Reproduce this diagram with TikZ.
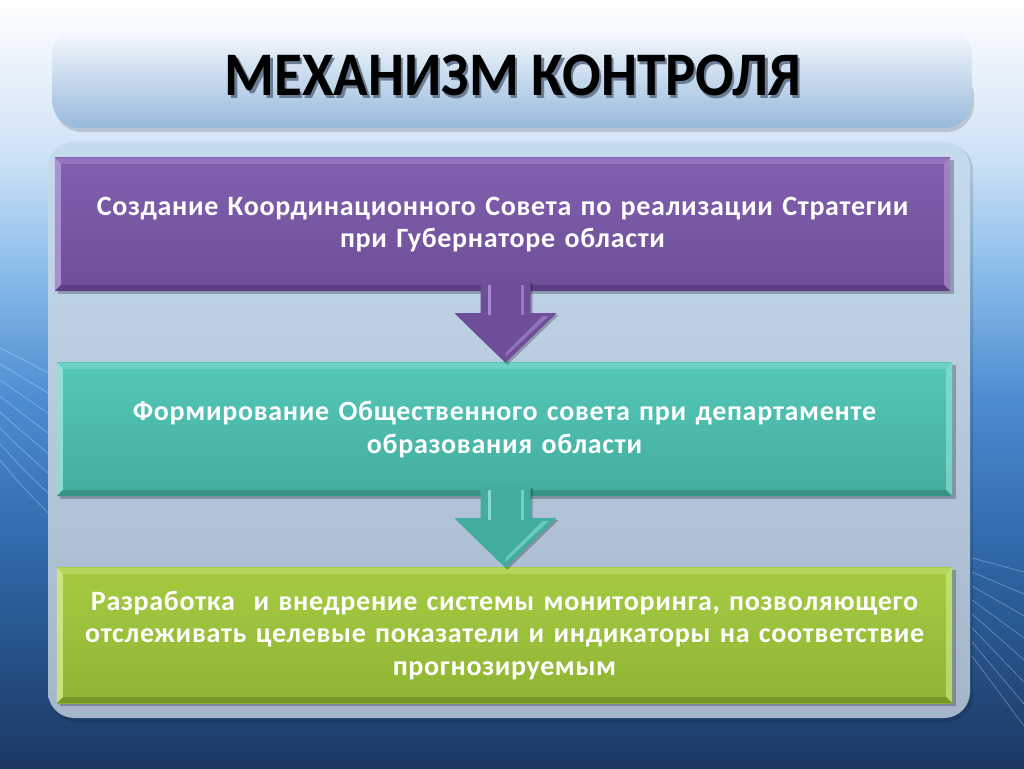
\documentclass[tikz,border=0pt]{standalone}
\usepackage{fontspec}
\setmainfont{Carlito}
\usetikzlibrary{calc}
\definecolor{bgD}{HTML}{1B3862}
\definecolor{bgC}{HTML}{2F66A6}
\definecolor{bgB}{HTML}{4C8CD0}
\definecolor{bgA}{HTML}{8FC0EC}
\definecolor{bgE}{HTML}{CFE3F6}
\definecolor{ttlT}{HTML}{F8FBFE}
\definecolor{ttlB}{HTML}{97B9DC}
\definecolor{ttlS}{HTML}{6A7D94}
\definecolor{panT}{HTML}{C6DBEE}
\definecolor{panB}{HTML}{A5B5CA}
\definecolor{purT}{HTML}{8160AE}
\definecolor{purB}{HTML}{6E4E98}
\definecolor{purL}{HTML}{B598DC}
\definecolor{purD}{HTML}{4E3374}
\definecolor{teaT}{HTML}{55C8B8}
\definecolor{teaB}{HTML}{42AD9E}
\definecolor{teaL}{HTML}{9BE6DC}
\definecolor{teaD}{HTML}{2C7E73}
\definecolor{grnT}{HTML}{A6CB42}
\definecolor{grnB}{HTML}{8EB434}
\definecolor{grnL}{HTML}{D2EC8A}
\definecolor{grnD}{HTML}{5F7E1E}
\pgfdeclareverticalshading{bgsh}{100bp}{color(0bp)=(bgD); color(25bp)=(bgD); color(38.5bp)=(bgC); color(49bp)=(bgB); color(58bp)=(bgA); color(65bp)=(bgE); color(75bp)=(white); color(100bp)=(white)}
\newcommand\bevelbox[3]{%
  \fill[#2,opacity=0.85] (#1.north west) -- (#1.south west) -- ($(#1.south west)+(6,6)$) -- ($(#1.north west)+(6,-6)$) -- cycle;
  \fill[#2,opacity=0.6] (#1.north east) -- (#1.south east) -- ($(#1.south east)+(-6,6)$) -- ($(#1.north east)+(-6,-6)$) -- cycle;
  \fill[#3,opacity=0.55] (#1.south west) -- (#1.south east) -- ($(#1.south east)+(-6,6)$) -- ($(#1.south west)+(6,6)$) -- cycle;
  \fill[#2,opacity=0.35] (#1.north west) -- (#1.north east) -- ($(#1.north east)+(-6,-6)$) -- ($(#1.north west)+(6,-6)$) -- cycle;
}
\newcommand\flowarrow[4]{% from node, to node, main colour, light colour
  \coordinate (ax) at ($(#2.north)+(1,0)$);
  \path let \p1=(ax), \p2=(#1.south) in
    coordinate (sA) at (\x1-25,\y2+10)
    coordinate (sB) at (\x1+25,\y2+10)
    coordinate (hA) at (\x1-25,\y2-22)
    coordinate (hB) at (\x1+25,\y2-22)
    coordinate (wA) at (\x1-51,\y2-22)
    coordinate (wB) at (\x1+51,\y2-22);
  \fill[black,opacity=0.25] ($(sA)+(2,-2)$) -- ($(hA)+(2,-2)$) -- ($(wA)+(2,-2)$) -- ($(ax)+(2,-2)$) -- ($(wB)+(2,-2)$) -- ($(hB)+(2,-2)$) -- ($(sB)+(2,-2)$) -- cycle;
  \fill[#3] (sA) -- (hA) -- (wA) -- (ax) -- (wB) -- (hB) -- (sB) -- cycle;
  \fill[#4,opacity=0.8] ($(sA)+(7,-4)$) rectangle ($(hA)+(10,-2)$);
  \fill[#4,opacity=0.6] ($(sB)+(-10,-4)$) rectangle ($(hB)+(-7,-2)$);
  \fill[#4,opacity=0.5] ($(wB)+(-8,-3)$) -- ($(ax)+(0,6)$) -- ($(ax)+(0,10)$) -- ($(wB)+(-14,-3)$) -- cycle;
}
\newcommand\shadowtitle[1]{\rlap{\kern2.5pt\raisebox{-2.5pt}{\textcolor{ttlS}{#1}}}#1}
\newfontfamily\bodyfont[LetterSpace=2.5]{Carlito}
\tikzset{
  stepbox/.style={minimum width=895pt, minimum height=133pt, text width=880pt, align=center,
    text=white, font=\bodyfont\fontsize{28}{32.5}\selectfont\bfseries, inner sep=0pt},
  boxshadow/.style={fill=black, opacity=0.25},
  decoline/.style={white, opacity=0.35, line width=0.6pt},
  titlefont/.style={font=\fontsize{62}{62}\selectfont\bfseries},
}
\begin{document}
\begin{tikzpicture}[x=1pt,y=1pt]
\useasboundingbox (0,0) rectangle (1024,768);
\shade[shading=bgsh] (0,0) rectangle (1024,768);
% decorative faint lines
\foreach \i in {0,...,7} {
  \draw[decoline] (972,{210-\i*14}) -- (1024,{196-\i*22});
  \draw[decoline] (0,{420-\i*16}) .. controls (20,{410-\i*18}) .. (48,{395-\i*20});
}
% title panel
\fill[black,opacity=0.15,rounded corners=28] (54,636) rectangle (974,700);
\shade[top color=ttlT, bottom color=ttlB, rounded corners=28] (52,640) rectangle (972,740);
\node (title) [text=black,titlefont] at (513,691) {\scalebox{0.92}[1]{\shadowtitle{МЕХАНИЗМ КОНТРОЛЯ}}};
% main panel
\fill[black,opacity=0.12,rounded corners=26] (50,46) rectangle (973,624);
\shade[top color=panT, bottom color=panB, rounded corners=26] (48,50) rectangle (970,626);
% boxes
\fill[boxshadow] (58,474) rectangle (954,608);
\shade[top color=purT, bottom color=purB] (55,477) rectangle (950,610);
\node (b1) [stepbox] at (502.5,543.5) {Создание Координационного Совета по реализации Стратегии\\при Губернаторе области};
\bevelbox{b1}{purL}{purD}
\fill[boxshadow] (60,269) rectangle (956,403);
\shade[top color=teaT, bottom color=teaB] (57,272) rectangle (952,405);
\node (b2) [stepbox] at (504.5,338.5) {Формирование Общественного совета при департаменте\\образования области};
\bevelbox{b2}{teaL}{teaD}
\fill[boxshadow] (60,62) rectangle (956,198);
\shade[top color=grnT, bottom color=grnB] (57,65) rectangle (952,200);
\node (b3) [stepbox,minimum height=135pt] at (504.5,132.5) {Разработка\ \ и внедрение системы мониторинга, позволяющего\\отслеживать целевые показатели и индикаторы на соответствие\\прогнозируемым};
\bevelbox{b3}{grnL}{grnD}
% arrows
\flowarrow{b1}{b2}{purB}{purL}
\flowarrow{b2}{b3}{teaB}{teaL}
\end{tikzpicture}
\end{document}
